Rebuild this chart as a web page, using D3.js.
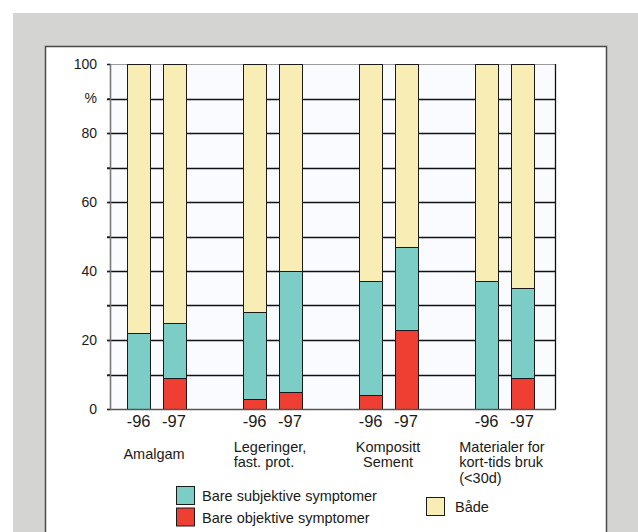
<!DOCTYPE html>
<html lang="no">
<head>
<meta charset="UTF-8">
<title>Symptomer etter materialtype</title>
<script src="https://d3js.org/d3.v7.min.js"></script>
<style>
    body { margin: 0; background: #fff; font-family: "Liberation Sans", Arial, Helvetica, sans-serif; }
    svg { display: block; }
    .grid line { stroke: #111; stroke-width: 1.3; }
    .bar { stroke: #1a1a1a; stroke-width: 1; shape-rendering: crispEdges; }
</style>
</head>
<body>
<div id="chart"></div>
<script>
// --- data ---
const groups = ["Amalgam", "Legeringer", "Kompositt", "Materialer"];
const groupLines = [
    ["Amalgam"],
    ["Legeringer,", "fast. prot."],
    ["Kompositt", "Sement"],
    ["Materialer for", "kort-tids bruk", "(<30d)"]
];
const groupAlign = ["start", "start", "middle", "start"];
const years = ["-96", "-97"];

// per bar, order: Amalgam -96, -97, Legeringer -96, -97, Kompositt -96, -97, Materialer -96, -97
const objektive  = [0, 9, 3, 5, 4, 23, 0, 9];
const subjektive = [22, 16, 25, 35, 33, 24, 37, 26];
const baade      = [78, 75, 72, 60, 63, 53, 63, 65];

const yTickValues = [0, 10, 20, 30, 40, 50, 60, 70, 80, 90, 100];
const yTickText   = ["0", "", "20", "", "40", "", "60", "", "80", "%", "100"];

const seriesKeys   = ["obj", "subj", "both"];
const seriesColors = { obj: "#ee3f32", subj: "#7ccdc6", both: "#f8eeb5" };

// --- layout ---
const W = 638, H = 532;
const plot = { left: 110, right: 555, top: 64, bottom: 409 };

const svg = d3.select("#chart").append("svg")
    .attr("width", W).attr("height", H);

// grey panel and white frame
svg.append("rect").attr("x", 13).attr("y", 13).attr("width", W - 13).attr("height", H)
    .attr("fill", "#d4d5d2");
svg.append("rect").attr("x", 45.5).attr("y", 46.5).attr("width", 561).attr("height", H)
    .attr("fill", "#fff").attr("stroke", "#4a4a4a").attr("stroke-width", 1.5);

const y = d3.scaleLinear().domain([0, 100]).range([plot.bottom, plot.top]);
const x0 = d3.scaleBand().domain(groups).range([98, 562]);
const x1 = d3.scaleBand().domain(years).range([29.3, 87.3]).paddingInner(0.36).paddingOuter(0);

// plot background
svg.append("rect")
    .attr("x", plot.left).attr("y", plot.top)
    .attr("width", plot.right - plot.left).attr("height", plot.bottom - plot.top)
    .attr("fill", "#fafbff");

// gridlines
svg.append("g").attr("class", "grid")
    .selectAll("line").data(yTickValues.filter(d => d > 0 && d < 100)).enter()
    .append("line")
    .attr("x1", plot.left - 3).attr("x2", plot.right)
    .attr("y1", d => Math.round(y(d)) + 0.5).attr("y2", d => Math.round(y(d)) + 0.5);
svg.append("line")
    .attr("x1", plot.left).attr("x2", plot.right)
    .attr("y1", plot.top + 0.5).attr("y2", plot.top + 0.5)
    .attr("stroke", "#9a9a9a");

// build stacked rows
const rows = [];
groups.forEach((g, gi) => {
    years.forEach((yr, yi) => {
        const i = gi * 2 + yi;
        rows.push({ group: g, year: yr, obj: objektive[i], subj: subjektive[i], both: baade[i] });
    });
});
const stacked = d3.stack().keys(seriesKeys)(rows);

svg.append("g").selectAll("g").data(stacked).enter()
    .append("g")
    .attr("fill", s => seriesColors[s.key])
    .selectAll("rect").data(s => s.filter(d => d[1] - d[0] > 0)).enter()
    .append("rect")
    .attr("class", "bar")
    .attr("x", d => Math.round(x0(d.data.group) + x1(d.data.year)) + 0.5)
    .attr("y", d => Math.round(y(d[1])) + 0.5)
    .attr("width", Math.round(x1.bandwidth()))
    .attr("height", d => Math.round(y(d[0])) - Math.round(y(d[1])));

// axes frame
svg.append("line")
    .attr("x1", plot.right + 0.5).attr("x2", plot.right + 0.5)
    .attr("y1", plot.top).attr("y2", plot.bottom)
    .attr("stroke", "#111").attr("stroke-width", 1.3);
svg.append("line")
    .attr("x1", plot.left).attr("x2", plot.right + 1)
    .attr("y1", plot.bottom + 0.5).attr("y2", plot.bottom + 0.5)
    .attr("stroke", "#555").attr("stroke-width", 1.6);

const yAxis = svg.append("g")
    .attr("transform", `translate(${plot.left},0)`)
    .call(d3.axisLeft(y).tickValues(yTickValues)
        .tickFormat((d, i) => yTickText[i]).tickSize(3).tickPadding(10));
yAxis.select(".domain").attr("stroke", "#777").attr("stroke-width", 1.6);
yAxis.selectAll(".tick line").attr("stroke", "#222").attr("stroke-width", 1.3);
yAxis.selectAll("text")
    .attr("font-family", "'Liberation Sans', Arial, sans-serif")
    .attr("font-size", 14).attr("fill", "#1a1a1a");

// year labels under bars
svg.append("g").selectAll("text").data(rows).enter()
    .append("text")
    .attr("x", d => x0(d.group) + x1(d.year) + x1.bandwidth() / 2)
    .attr("y", 427)
    .attr("text-anchor", "middle")
    .attr("font-size", 16.5).attr("fill", "#1a1a1a")
    .text(d => d.year);

// category labels
const lineH = 15.5;
groups.forEach((g, gi) => {
    const cx = x0(g) + x0.bandwidth() / 2;
    const lines = groupLines[gi];
    const t = svg.append("text")
        .attr("font-size", 14.5).attr("fill", "#1a1a1a")
        .attr("text-anchor", groupAlign[gi]);
    const first = 451.5 + (lines.length === 1 ? lineH / 2 : 0);
    const spans = lines.map((ln, li) => t.append("tspan").attr("y", first + li * lineH).text(ln));
    if (groupAlign[gi] === "middle") {
        spans.forEach(s => s.attr("x", cx));
    } else {
        const maxW = d3.max(spans, s => s.node().getComputedTextLength());
        spans.forEach(s => s.attr("x", cx - maxW / 2 - 2));
    }
});

// legend
const legendItems = [
    { key: "subj", label: "Bare subjektive symptomer", x: 176, y: 486 },
    { key: "obj",  label: "Bare objektive symptomer",  x: 176, y: 507.5 },
    { key: "both", label: "Både",                      x: 426, y: 497 }
];
const lg = svg.append("g").selectAll("g").data(legendItems).enter()
    .append("g").attr("transform", d => `translate(${d.x},${d.y})`);
lg.append("rect")
    .attr("x", 0.5).attr("y", 0.5).attr("width", 18).attr("height", 18)
    .attr("fill", d => seriesColors[d.key])
    .attr("stroke", "#1a1a1a");
lg.append("text")
    .attr("x", d => d.key === "both" ? 29 : 26)
    .attr("y", 15)
    .attr("font-size", 14.5).attr("fill", "#1a1a1a")
    .text(d => d.label);
</script>
</body>
</html>
